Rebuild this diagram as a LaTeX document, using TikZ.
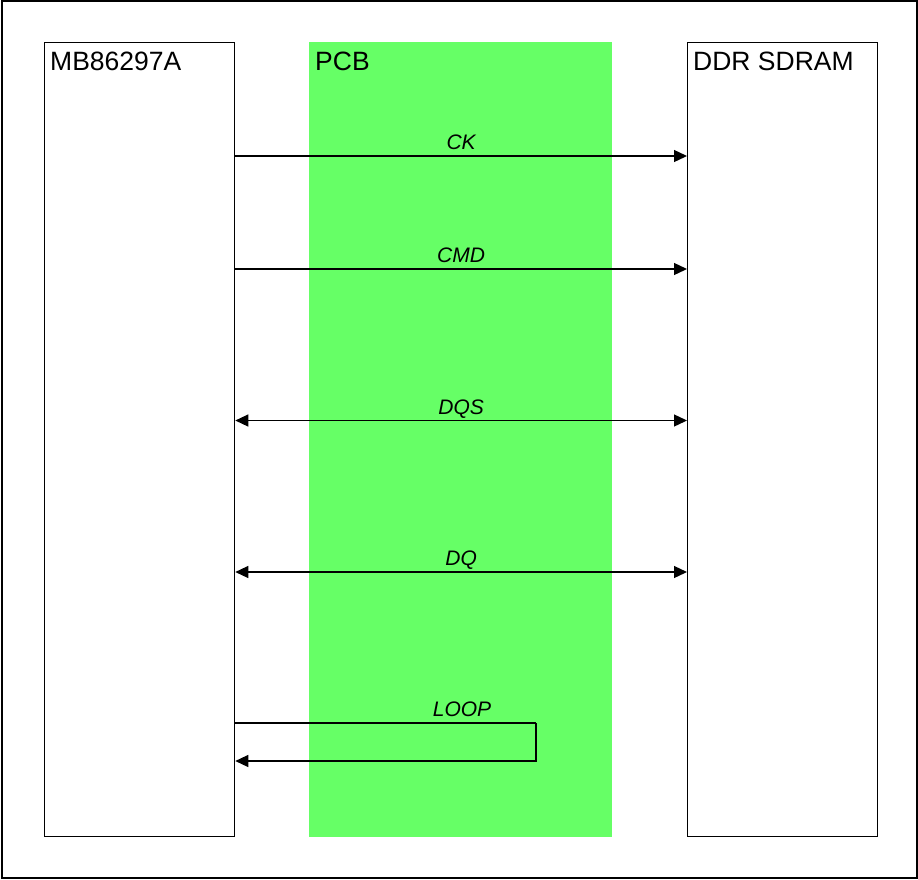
\documentclass[tikz,border=0pt]{standalone}
\usepackage{fontspec}
\setmainfont{Liberation Sans}
\usepackage{xcolor}
\usetikzlibrary{positioning,arrows.meta,calc}

\definecolor{pcbgreen}{HTML}{66FF66}

\tikzset{
  chipbox/.style={draw, line width=1.3pt, minimum width=190pt, minimum height=794pt, inner sep=0pt, anchor=north west},
  chiptitle/.style={anchor=north west, inner sep=0pt, font=\fontsize{26.5}{30}\selectfont},
  sig/.style={line width=1.3pt, -{Triangle[length=13pt,width=12pt]}},
  bisig/.style={line width=1.3pt, {Triangle[length=13pt,width=12pt]}-{Triangle[length=13pt,width=12pt]}},
  siglabel/.style={anchor=base, inner sep=0pt, yshift=6.5pt, font=\fontsize{21}{24}\selectfont\itshape}
}

\begin{document}
\begin{tikzpicture}[x=1pt, y=-1pt]
\useasboundingbox (0,0) rectangle (918,879);

% Outer frame
\draw[line width=2pt] (2,1) rectangle (916.5,877.5);

% PCB strip
\fill[pcbgreen] (309,42) rectangle (612,836.5);
\node[chiptitle] (pcbtitle) at (315,52) {PCB};

% Controller and memory
\node[chipbox] (gdc) at (44,42) {};
\node[chipbox] (ram) at (687,42) {};
\node[chiptitle] (gdctitle) at ($(gdc.north west)+(6,10)$) {MB86297A};
\node[chiptitle] (ramtitle) at ($(ram.north west)+(6,10)$) {DDR SDRAM};

% Signal rows
\coordinate (ck) at (0,156);
\coordinate (cmd) at (0,269);
\coordinate (dqs) at (0,420.5);
\coordinate (dq) at (0,572);
\coordinate (loopout) at (536,723);
\coordinate (loopin) at (536,761);

\draw[sig] (gdc.east |- ck) -- (ram.west |- ck) node[siglabel, pos=0.5] {CK};
\draw[sig] (gdc.east |- cmd) -- (ram.west |- cmd) node[siglabel, pos=0.5] {CMD};
\draw[bisig] (gdc.east |- dqs) -- (ram.west |- dqs) node[siglabel, pos=0.5] {DQS};
\draw[bisig] (gdc.east |- dq) -- (ram.west |- dq) node[siglabel, pos=0.5] {DQ};

% Loop back
\draw[line width=1.3pt] (gdc.east |- loopout) -- (loopout);
\node[siglabel] (looplabel) at (462,723) {LOOP};
\draw[sig] (loopout) -- (loopin) -- (gdc.east |- loopin);
\end{tikzpicture}
\end{document}
